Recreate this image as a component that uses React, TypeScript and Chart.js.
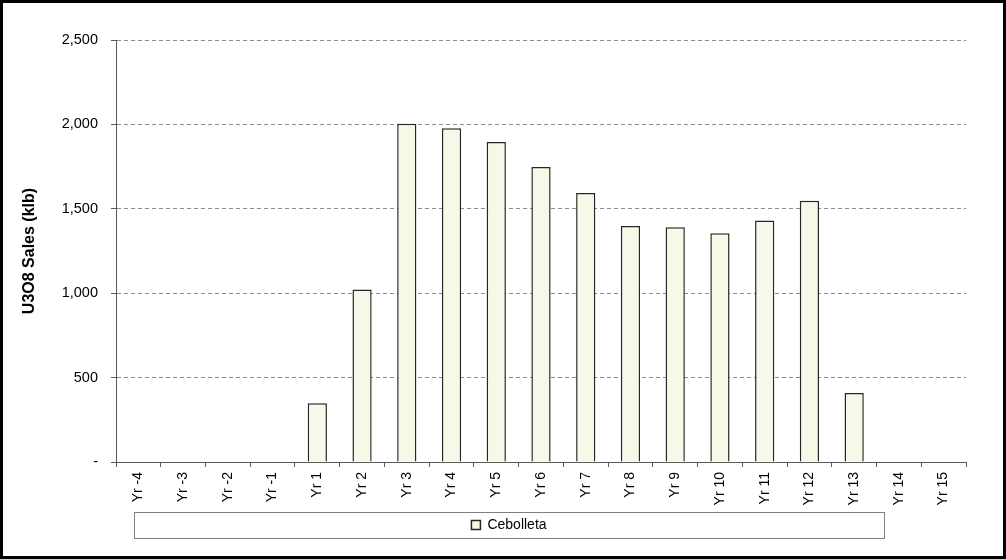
import React, { useRef, useEffect } from "react";
import { Chart, registerables } from "chart.js";

Chart.register(...registerables);

const categories = [
	"Yr -4", "Yr -3", "Yr -2", "Yr -1", "Yr 1", "Yr 2", "Yr 3", "Yr 4", "Yr 5", "Yr 6",
	"Yr 7", "Yr 8", "Yr 9", "Yr 10", "Yr 11", "Yr 12", "Yr 13", "Yr 14", "Yr 15",
];
const cebolletaSales = [
	null, null, null, null, 348, 1022, 2004, 1977, 1896, 1748,
	1594, 1398, 1390, 1355, 1430, 1548, 409, null, null,
];
const seriesName = "Cebolleta";
const axisTitle = "U3O8 Sales (klb)";

const FONT = "'Liberation Sans', Arial, sans-serif";

// Excel-style legend: fixed-width box under the plot, with a grey frame
const legendFrame = {
	id: "legendFrame",
	afterLayout(chart: any) {
		const lg = chart.legend;
		if (!lg) return;
		lg.left = chart.chartArea.left + 18;
		lg.right = lg.left + 750;
		lg.width = 750;
	},
	afterDraw(chart: any) {
		const lg = chart.legend;
		if (!lg || !lg.legendHitBoxes || !lg.legendHitBoxes.length) return;
		const hb = lg.legendHitBoxes[0];
		const cy = hb.top + hb.height / 2;
		const ctx = chart.ctx;
		ctx.save();
		ctx.strokeStyle = "#808080";
		ctx.lineWidth = 1;
		ctx.strokeRect(Math.round(lg.left) + 0.5, Math.round(cy - 13) + 0.5, 750, 26);
		ctx.restore();
	},
};

const SalesChart: React.FC = () => {
	const chartRef = useRef<HTMLCanvasElement | null>(null);
	const chartInstance = useRef<Chart | null>(null);

	useEffect(() => {
		if (!chartRef.current) return;
		const ctx = chartRef.current.getContext("2d");

		chartInstance.current = new Chart(ctx as any, {
			type: "bar",
			data: {
				labels: categories,
				datasets: [
					{
						label: seriesName,
						data: cebolletaSales as any,
						backgroundColor: "#f6f9e8",
						borderColor: "#262626",
						borderWidth: 1.5,
						barPercentage: 0.43,
						categoryPercentage: 1,
					},
				],
			},
			options: {
				responsive: false,
				animation: false,
				layout: { padding: { top: 37, right: 37, left: 0, bottom: 14 } },
				scales: {
					x: {
						grid: {
							display: true,
							offset: true,
							drawOnChartArea: false,
							drawTicks: true,
							tickLength: 5,
							tickColor: "#595959",
						},
						border: { color: "#595959", width: 1 },
						ticks: {
							autoSkip: false,
							maxRotation: 90,
							minRotation: 90,
							padding: 5,
							color: "#000",
							font: { family: FONT, size: 14 },
						},
						afterFit(scale: any) {
							scale.height = 49;
						},
					},
					y: {
						min: 0,
						max: 2500,
						ticks: {
							stepSize: 500,
							padding: 13,
							color: "#000",
							font: { family: FONT, size: 14.5 },
							callback: (v: any) => (v === 0 ? "-" : Number(v).toLocaleString("en-US")),
						},
						grid: {
							color: "#8c8c8c",
							tickBorderDash: [],
							tickColor: "#595959",
							tickLength: 5,
						} as any,
						border: { color: "#595959", width: 1, dash: [4, 3] } as any,
						title: {
							display: true,
							text: axisTitle,
							color: "#000",
							font: { family: FONT, size: 16, weight: "bold" },
							padding: { top: 17, bottom: 0 },
						},
						afterFit(scale: any) {
							scale.width = 113;
						},
					},
				},
				plugins: {
					legend: {
						position: "bottom",
						labels: {
							boxWidth: 9,
							boxHeight: 9,
							padding: 7,
							color: "#000",
							font: { family: FONT, size: 14 },
						},
					},
					tooltip: { enabled: false },
				},
			} as any,
			plugins: [legendFrame],
		});

		return () => {
			if (chartInstance.current) {
				chartInstance.current.destroy();
				chartInstance.current = null;
			}
		};
	}, []);

	return (
		<div
			style={{
				position: "fixed",
				left: 0,
				top: 0,
				width: 1006,
				height: 559,
				boxSizing: "border-box",
				border: "3px solid #000",
				background: "#fff",
			}}
		>
			<canvas ref={chartRef} width={1000} height={553} style={{ display: "block", width: 1000, height: 553 }} />
		</div>
	);
};

export default function App() {
	return <SalesChart />;
}
